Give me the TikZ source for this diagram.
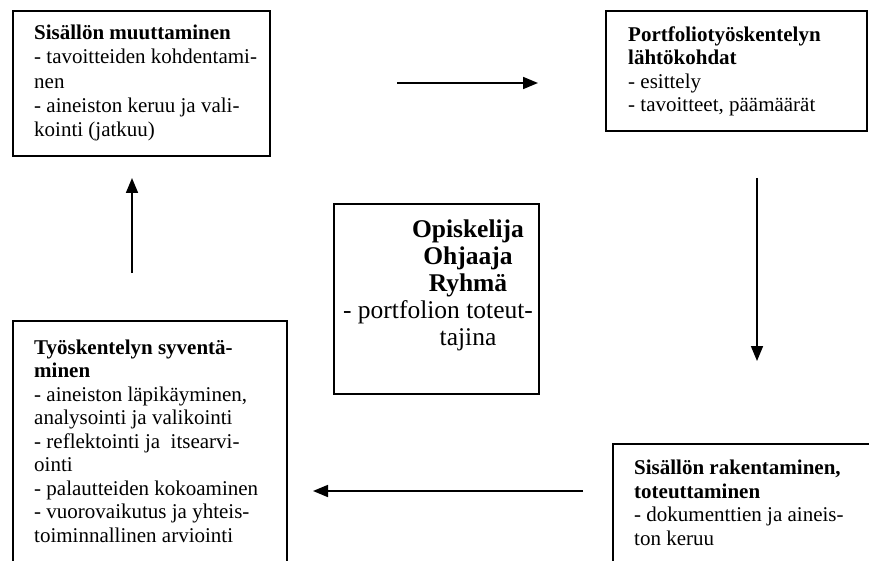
\documentclass[tikz,border=0pt]{standalone}
\usepackage{fontspec}
\setmainfont{Liberation Serif}
\usetikzlibrary{arrows.meta}
\begin{document}
\begin{tikzpicture}[x=1pt,y=-1pt,
  frame/.style={draw, line width=1.7pt, inner sep=0pt, anchor=north west},
  body/.style={anchor=north west, inner sep=0pt, align=left,
    font=\fontsize{21}{23.5}\selectfont},
  core/.style={anchor=north, inner sep=0pt, align=center,
    font=\fontsize{25.5}{27}\selectfont},
  flow/.style={line width=1.7pt, -{Triangle[length=15pt,width=12pt]}},
]
\useasboundingbox (0,0) rectangle (869,561);
\clip (0,0) rectangle (869,561);

% frames of the five boxes (the two lower ones run past the page bottom)
\node[frame, minimum width=257pt, minimum height=145pt] (f1) at (12,10) {};
\node[frame, minimum width=261pt, minimum height=120pt] (f2) at (605,10) {};
\node[frame, minimum width=205pt, minimum height=190pt] (fc) at (333,203) {};
\node[frame, minimum width=274pt, minimum height=260pt] (f4) at (12,320) {};
\node[frame, minimum width=270pt, minimum height=140pt] (f3) at (612,443) {};

% texts
\node[body, font=\fontsize{21}{24.2}\selectfont] (t1) at (34,25) {\textbf{Sisällön muuttaminen}\\
- tavoitteiden kohdentami-\\
nen\\
- aineiston keruu ja vali-\\
kointi (jatkuu)};

\node[body] (t2) at (628,26.5) {\textbf{Portfoliotyöskentelyn}\\
\textbf{lähtökohdat}\\
- esittely\\
- tavoitteet, päämäärät};

\node[core] (tc) at (468,219.5) {\textbf{Opiskelija}\\
\textbf{Ohjaaja}\\
\textbf{Ryhmä}\\
\hspace*{-60pt}- portfolion toteut-\\
tajina};

\node[body] (t4) at (34,339.5) {\textbf{Työskentelyn syventä-}\\
\textbf{minen}\\
- aineiston läpikäyminen,\\
analysointi ja valikointi\\
- reflektointi ja \ itsearvi-\\
ointi\\
- palautteiden kokoaminen\\
- vuorovaikutus ja yhteis-\\
toiminnallinen arviointi};

\node[body] (t3) at (634,460) {\textbf{Sisällön rakentaminen,}\\
\textbf{toteuttaminen}\\
- dokumenttien ja aineis-\\
ton keruu};

% arrows of the cycle
\coordinate (a1s) at (397,83);  \coordinate (a1e) at (538,83);
\coordinate (a2s) at (757,178); \coordinate (a2e) at (757,361);
\coordinate (a3s) at (583,491); \coordinate (a3e) at (313,491);
\coordinate (a4s) at (132,273); \coordinate (a4e) at (132,178);
\draw[flow] (a1s) -- (a1e);
\draw[flow] (a2s) -- (a2e);
\draw[flow] (a3s) -- (a3e);
\draw[flow] (a4s) -- (a4e);
\end{tikzpicture}
\end{document}
